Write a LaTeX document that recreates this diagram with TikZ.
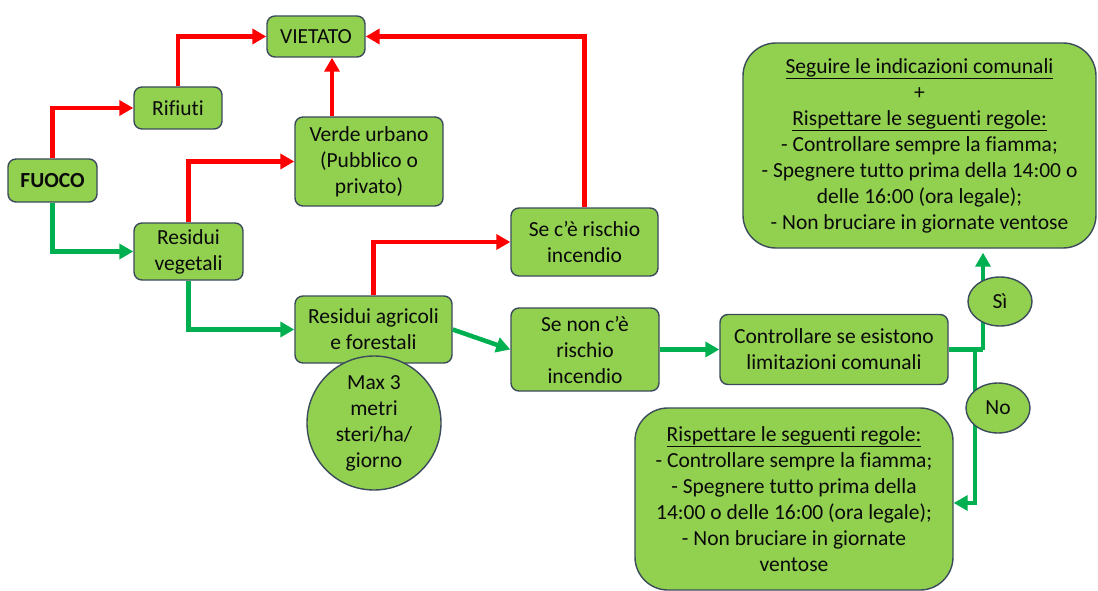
\documentclass[tikz,border=0pt]{standalone}
\usepackage{fontspec}
\setmainfont{Carlito}[RawFeature={-liga;-clig;-calt;-dlig}]
\usetikzlibrary{arrows.meta,shapes.geometric}
\definecolor{boxgreen}{HTML}{92D050}
\definecolor{boxline}{HTML}{3B4B5B}
\definecolor{redline}{HTML}{FF0000}
\definecolor{greenline}{HTML}{00B050}
\definecolor{txt}{HTML}{0A0A0A}
\newcommand\nolig{\kern0pt }
\begin{document}
\begin{tikzpicture}[x=1pt,y=-1pt,
  box/.style={draw=boxline,fill=boxgreen,line width=1.4pt,rounded corners=8pt,
    align=center,inner sep=0pt,text=txt,font=\fontsize{21.5}{26}\selectfont},
  bigbox/.style={box,rounded corners=33pt},
  roundbox/.style={draw=boxline,fill=boxgreen,line width=1.4pt,ellipse,
    align=center,inner sep=0pt,text=txt,font=\fontsize{21.5}{26}\selectfont},
  redarrow/.style={draw=redline,line width=4.5pt,-{Triangle[length=14pt,width=15pt]}},
  greenarrow/.style={draw=greenline,line width=4.5pt,-{Triangle[length=14pt,width=15pt]}},
  greenline/.style={draw=greenline,line width=4.5pt}
]
\useasboundingbox[fill=white] (0,0) rectangle (1098,591);

\node[box,minimum width=89pt,minimum height=43pt] (fuoco) at (52.5,180.5) {\textbf{FUOCO}};
\node[box,minimum width=88pt,minimum height=42pt] (rifiuti) at (178,108) {Rifiuti};
\node[box,minimum width=98pt,minimum height=41pt] (vietato) at (316,36.5) {VIETATO};
\node[box,minimum width=148pt,minimum height=89pt] (verde) at (369,161.5) {Verde urbano\\(Pubblico o\\privato)};
\node[box,minimum width=109pt,minimum height=57pt] (resveg) at (188.5,251.5) {Residui\\vegetali};
\node[box,minimum width=157pt,minimum height=67pt] (resagr) at (373.5,329.5) {Residui agricoli\\e forestali};
\node[circle,draw=boxline,fill=boxgreen,line width=1.4pt,minimum size=134pt,inner sep=0pt,
  align=center,text=txt,font=\fontsize{21.5}{26}\selectfont] (maxc) at (374,423) {Max 3\\metri\\steri/ha/\\giorno};
\node[box,minimum width=147pt,minimum height=68pt] (serischio) at (584.5,242) {Se c’è rischio\\incendio};
\node[box,minimum width=148pt,minimum height=83pt] (senon) at (585,349.5) {Se non c’è\\rischio\\incendio};
\node[box,minimum width=228pt,minimum height=70pt] (contr) at (834,349.5) {Controllare se esistono\\limitazioni comunali};
\node[bigbox,minimum width=353pt,minimum height=205pt] (top) at (919.5,145.5)
  {\underline{Seguire le indicazioni comunali}\\+\\\underline{Rispet\nolig tare le seguenti regole:}\\- Controllare sempre la fiamma;\\- Spegnere tut\nolig to prima della 14:00 o\\delle 16:00 (ora legale);\\- Non bruciare in giornate ventose};
\node[bigbox,minimum width=318pt,minimum height=182pt] (bottom) at (794,499)
  {\underline{Rispet\nolig tare le seguenti regole:}\\- Controllare sempre la fiamma;\\- Spegnere tut\nolig to prima della\\14:00 o delle 16:00 (ora legale);\\- Non bruciare in giornate\\ventose};

% red connectors
\draw[redarrow] (fuoco.north) |- (rifiuti.west);
\draw[redarrow] (rifiuti.north) |- (vietato.west);
\coordinate (vu) at ([xshift=-37pt]verde.north);
\draw[redarrow] (vu) -- (vu |- vietato.south);
\draw[redarrow] (resveg.north) |- (verde.west);
\draw[redarrow] (serischio.north) |- (vietato.east);
\draw[redarrow] (resagr.north) |- (serischio.west);

% green connectors
\draw[greenarrow] (fuoco.south) |- (resveg.west);
\draw[greenarrow] (resveg.south) |- (resagr.west);
\draw[greenarrow] (resagr.east) -- (senon.west);
\draw[greenarrow] (senon.east) -- (contr.west);
\coordinate (j) at (983,349.5);
\coordinate (k) at (975,349.5);
\coordinate (be) at ([yshift=-4pt]bottom.east);
\draw[greenline] (contr.east) -- (j);
\draw[greenarrow] (j) -- ([yshift=-4pt]j |- top.south);
\draw[greenarrow] (k) |- (be);

\node[roundbox,minimum width=64pt,minimum height=49pt] (si) at (1000,301.5) {Sì};
\node[roundbox,minimum width=64pt,minimum height=50pt] (no) at (998,408) {No};
\end{tikzpicture}
\end{document}
